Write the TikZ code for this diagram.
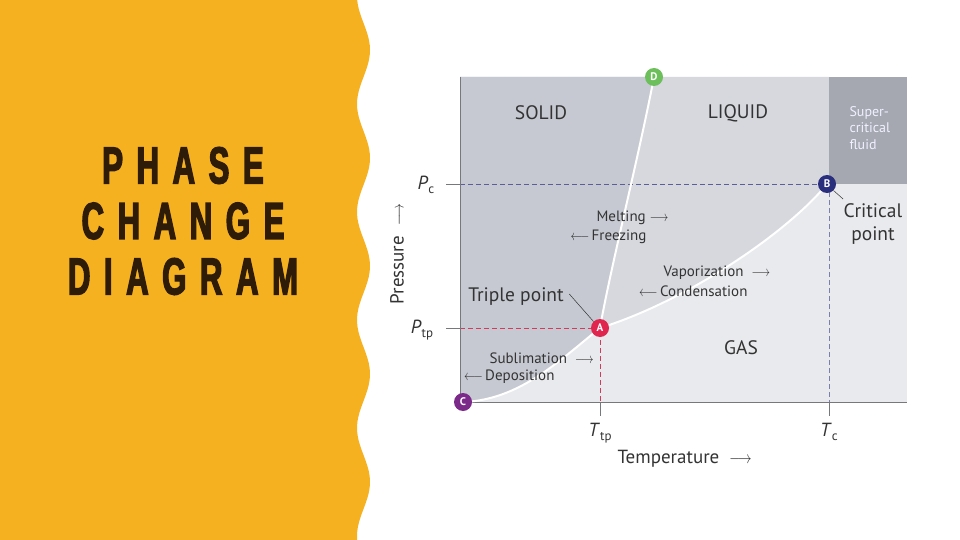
\documentclass[tikz,border=0pt]{standalone}
\usepackage{fontspec}
\setmainfont{PT Sans}
\newfontfamily\titlefont[FakeStretch=0.6,FakeBold=2.5,LetterSpace=26]{Liberation Sans}
\usepackage{xcolor}
\usepackage{graphicx}
\usepackage{tikz}
\usetikzlibrary{positioning}

\definecolor{titlebg}{HTML}{F5B120}
\definecolor{titlecol}{HTML}{2E1C08}
\definecolor{gasfill}{HTML}{E9EAED}
\definecolor{liqfill}{HTML}{D6D8DE}
\definecolor{solidfill}{HTML}{C6C9D1}
\definecolor{scfill}{HTML}{A5A8B0}
\definecolor{axisgray}{HTML}{77787C}
\definecolor{textgray}{HTML}{333333}
\definecolor{critcol}{HTML}{5A5F9A}
\definecolor{triplecol}{HTML}{D23C5A}
\definecolor{ptA}{HTML}{E0264F}
\definecolor{ptB}{HTML}{2A2F7D}
\definecolor{ptC}{HTML}{7B2A8A}
\definecolor{ptD}{HTML}{6CBF5A}

\newcommand{\axsym}[2]{\textit{#1}\raisebox{-0.35ex}{\fontsize{13}{13}\selectfont #2}}
\newcommand{\rarr}{\scalebox{0.8}[1]{$\longrightarrow$}}
\newcommand{\larr}{\scalebox{0.8}[1]{$\longleftarrow$}}

\begin{document}
\begin{tikzpicture}[x=1pt, y=-1pt,
      region/.style={font=\fontsize{19.5}{20}\selectfont, text=textgray},
      small/.style={font=\fontsize{15}{16}\selectfont, text=textgray},
      axlabel/.style={font=\fontsize{19}{19}\selectfont, text=textgray},
      symlabel/.style={font=\fontsize{19}{19}\selectfont, text=textgray},
      point/.style={circle, inner sep=0pt, minimum size=18pt, text=white,
        font=\fontsize{11}{11}\selectfont\bfseries},
      curve/.style={white, line width=2pt},
      axis/.style={axisgray, line width=1pt},
      tick/.style={axisgray, line width=0.6pt},
      guide/.style={dash pattern=on 5pt off 3pt, line width=0.7pt},
      leader/.style={textgray, line width=0.5pt}
    ]
      \useasboundingbox (0,0) rectangle (960,540);

      % title panel
      \fill[titlebg] (0,0) -- plot[domain=0:540, samples=120]
        ({363.5+6.5*sin((\x-23)*3.3333)}, \x) -- (0,540) -- cycle;
      \node[text=titlecol, align=center,
        font=\titlefont\bfseries\fontsize{52}{55.5}\selectfont] (title) at (183,221)
        {PHASE\\CHANGE\\DIAGRAM};

      % points on the diagram
      \coordinate (pA) at (600,328);
      \coordinate (pB) at (827,184);
      \coordinate (pC) at (463,402);
      \coordinate (pD) at (654,77);

      % regions
      \fill[gasfill] (460,77) rectangle (907,402);
      \fill[liqfill] (460,77) -- (829,77) -- (829,184) -- (pB)
        .. controls (790,230) and (690,300) .. (pA)
        .. controls (560,360) and (520,400) .. (pC) -- (460,402) -- cycle;
      \fill[solidfill] (460,77) -- (pD)
        .. controls (638,160) and (610,270) .. (pA)
        .. controls (560,360) and (520,400) .. (pC) -- (460,402) -- cycle;
      \fill[scfill] (829,77) rectangle (907,184);

      % guide lines
      \draw[guide, critcol] (460,184) -- (pB);
      \draw[guide, critcol!80] (829,184) -- (829,402);
      \draw[guide, triplecol] (460,328) -- (pA) -- (600,402);
      \draw[tick] (446,184) -- (460,184);
      \draw[tick] (446,328) -- (460,328);
      \draw[tick] (600,402) -- (600,416) coordinate (ttp);
      \draw[tick] (829,402) -- (829,416) coordinate (tc);
      \draw[axis] (460,77) -- (460,402) -- (907,402);

      % phase boundaries
      \draw[curve] (pC) .. controls (520,400) and (560,360) .. (pA);
      \draw[curve] (pA) .. controls (690,300) and (790,230) .. (pB);
      \draw[curve] (pA) .. controls (610,270) and (638,160) .. (pD);

      \node[point, fill=ptA] (A) at (pA) {A};
      \node[point, fill=ptB] (B) at (pB) {B};
      \node[point, fill=ptC] (C) at (pC) {C};
      \node[point, fill=ptD] (D) at (pD) {D};

      % region names
      \node[region] (solid) at (541,113) {SOLID};
      \node[region] (liquid) at (738,113) {LIQUID};
      \node[region] (gas) at (741,348) {GAS};
      \node[small, text=white!94!blue, align=left, anchor=west,
        font=\fontsize{14}{16.5}\selectfont] (super) at (846,128) {Super-\\critical\\fluid};

      % transitions
      \node[small, anchor=west] (melt) at (593,218) {Melting\ \rarr};
      \node[small, anchor=east] (freeze) at (650,237) {\larr\,Freezing};
      \node[small, anchor=west] (vap) at (660,273) {Vaporization\ \ \rarr};
      \node[small, anchor=east] (cond) at (751,291) {\larr\,Condensation};
      \node[small, anchor=west] (subl) at (486,358) {Sublimation\ \ \rarr};
      \node[small, anchor=east] (depo) at (558,377) {\larr\,Deposition};

      % special points
      \node[region] (triple) at (516,297) {Triple point};
      \node[region, align=center, font=\fontsize{19.5}{23}\selectfont] (crit) at (873,224) {Critical\\point};
      \draw[leader] ([shift={(2pt,3pt)}]triple.east) -- (A.north west);
      \draw[leader] ([shift={(3pt,1pt)}]crit.north west) -- (B.south east);

      % axis labels
      \node[symlabel] (pc) at (426,185) {\axsym{P}{c}};
      \node[symlabel] (ptp) at (422,330) {\axsym{P}{tp}};
      \node[symlabel, below=4pt of ttp] (ttplab) {\axsym{T}{tp}};
      \node[symlabel, below=4pt of tc] (tclab) {\axsym{T}{c}};
      \node[axlabel, rotate=90] (pres) at (397,254) {Pressure\ \ \rarr};
      \node[axlabel, anchor=west] (temp) at (614,459) {Temperature\ \ \rarr};
    \end{tikzpicture}
\end{document}
